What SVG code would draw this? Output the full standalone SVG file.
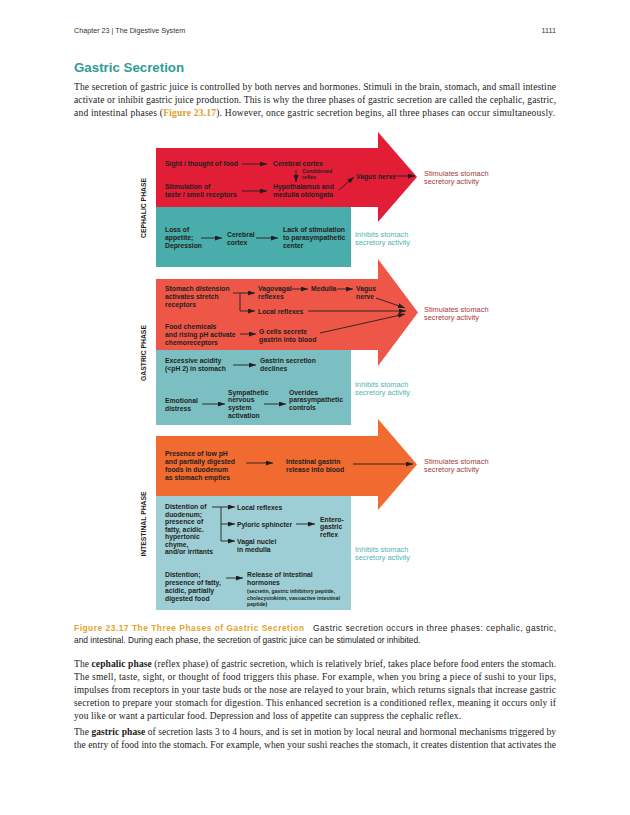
<svg xmlns="http://www.w3.org/2000/svg" width="630" height="815" viewBox="0 0 630 815">
<defs>
<marker id="ah" markerUnits="userSpaceOnUse" markerWidth="7" markerHeight="5" refX="7" refY="2.5" orient="auto">
<path d="M0,0 L7,2.5 L0,5 Z" fill="#231f20"/>
</marker>
<style>
.hd{font-family:"Liberation Sans",Arial,sans-serif;font-size:7.2px;fill:#333}
.ttl{font-family:"Liberation Sans",Arial,sans-serif;font-weight:bold;font-size:13.3px;fill:#2e9c96}
.p{font-family:"Liberation Serif","Times New Roman",serif;font-size:9.5px;fill:#1a1a1a}
.b{font-weight:bold}
.lnk{font-weight:bold;fill:#e29a25}
.cap{font-family:"Liberation Sans",Arial,sans-serif;font-size:8.4px;fill:#222}
.capb{font-weight:bold;fill:#e3a22e}
.t{font-family:"Liberation Sans",Arial,sans-serif;font-weight:bold;font-size:6.8px;fill:#231f20}
.sm{font-size:5.2px}
.stim{font-family:"Liberation Sans",Arial,sans-serif;font-size:7.4px;fill:#a23b3b}
.inh{font-family:"Liberation Sans",Arial,sans-serif;font-size:7.4px;fill:#4fb3b5}
.con{stroke:#231f20;stroke-width:0.9;fill:none}
.ar{marker-end:url(#ah)}
</style>
</defs>
<rect width="630" height="815" fill="#fff"/>

<g id="page-header">
<text class="hd" x="74" y="32.5">Chapter 23 | The Digestive System</text>
<text class="hd" x="556" y="32.5" text-anchor="end">1111</text>
</g>
<g id="title"><text class="ttl" x="74" y="72">Gastric Secretion</text></g>
<g id="intro">
<text class="p" x="74" y="89.5" textLength="482" lengthAdjust="spacing">The secretion of gastric juice is controlled by both nerves and hormones. Stimuli in the brain, stomach, and small intestine</text>
<text class="p" x="74" y="102.8" textLength="482" lengthAdjust="spacing">activate or inhibit gastric juice production. This is why the three phases of gastric secretion are called the cephalic, gastric,</text>
<text class="p" x="74" y="116" textLength="481" lengthAdjust="spacing">and intestinal phases (<tspan class="lnk">Figure 23.17</tspan>). However, once gastric secretion begins, all three phases can occur simultaneously.</text>
</g>

<!-- Phase shapes -->
<g id="cephalic-phase">
<path d="M156,148 H378 V132 L417,177 L378,222 V207 H156 Z" fill="#e21e37"/>
<rect x="156" y="207" width="195" height="60" fill="#48adab"/>
<text class="t" transform="translate(145.5,208) rotate(-90)" text-anchor="middle">CEPHALIC PHASE</text>
</g>
<g id="gastric-phase">
<path d="M156,279 H378 V259 L418,312.5 L378,366 V350 H156 Z" fill="#ee5747"/>
<rect x="156" y="350" width="195" height="75" fill="#7bbfc3"/>
<text class="t" transform="translate(145.5,353) rotate(-90)" text-anchor="middle">GASTRIC PHASE</text>
</g>
<g id="intestinal-phase">
<path d="M156,436 H378 V419 L417,464.5 L378,510 V496 H156 Z" fill="#f16a2f"/>
<rect x="156" y="496" width="195" height="114" fill="#9dced5"/>
<text class="t" transform="translate(145.5,524) rotate(-90)" text-anchor="middle">INTESTINAL PHASE</text>
</g>

<!-- Cephalic nodes -->
<g id="c-sight"><text class="t" x="165" y="166">Sight / thought of food</text></g>
<g id="c-cortex"><text class="t" x="273" y="166">Cerebral cortex</text></g>
<g id="c-cond"><text class="t sm" x="302" y="173">Conditioned</text><text class="t sm" x="302" y="179">reflex</text></g>
<g id="c-stim"><text class="t" x="165" y="188.5">Stimulation of</text><text class="t" x="165" y="196.5">taste / smell receptors</text></g>
<g id="c-hypo"><text class="t" x="273" y="188.5">Hypothalamus and</text><text class="t" x="273" y="196.5">medulla oblongata</text></g>
<g id="c-vagus"><text class="t" x="356" y="179">Vagus nerve</text></g>
<g id="c-out-stim"><text class="stim" x="424" y="176">Stimulates stomach</text><text class="stim" x="424" y="184">secretory activity</text></g>
<g id="c-loss"><text class="t" x="165" y="231.5">Loss of</text><text class="t" x="165" y="239.5">appetite;</text><text class="t" x="165" y="247.5">Depression</text></g>
<g id="c-cortex2"><text class="t" x="227" y="236.5">Cerebral</text><text class="t" x="227" y="244.5">cortex</text></g>
<g id="c-lack"><text class="t" x="283" y="231.5">Lack of stimulation</text><text class="t" x="283" y="239.5">to parasympathetic</text><text class="t" x="283" y="247.5">center</text></g>
<g id="c-out-inh"><text class="inh" x="355" y="236.5">Inhibits stomach</text><text class="inh" x="355" y="244.5">secretory activity</text></g>

<!-- Gastric nodes -->
<g id="g-dist"><text class="t" x="165" y="291">Stomach distension</text><text class="t" x="165" y="299">activates stretch</text><text class="t" x="165" y="307">receptors</text></g>
<g id="g-vago"><text class="t" x="258" y="291">Vagovagal</text><text class="t" x="258" y="299">reflexes</text></g>
<g id="g-medulla"><text class="t" x="311" y="291">Medulla</text></g>
<g id="g-vagus"><text class="t" x="356" y="291">Vagus</text><text class="t" x="356" y="299">nerve</text></g>
<g id="g-local"><text class="t" x="258" y="313.5">Local reflexes</text></g>
<g id="g-food"><text class="t" x="165" y="329">Food chemicals</text><text class="t" x="165" y="337">and rising pH activate</text><text class="t" x="165" y="345">chemoreceptors</text></g>
<g id="g-gcells"><text class="t" x="259" y="333.5">G cells secrete</text><text class="t" x="259" y="341.5">gastrin into blood</text></g>
<g id="g-out-stim"><text class="stim" x="424" y="312">Stimulates stomach</text><text class="stim" x="424" y="320">secretory activity</text></g>
<g id="g-acid"><text class="t" x="165" y="363">Excessive acidity</text><text class="t" x="165" y="371">(&lt;pH 2) in stomach</text></g>
<g id="g-decl"><text class="t" x="260" y="363">Gastrin secretion</text><text class="t" x="260" y="371">declines</text></g>
<g id="g-emot"><text class="t" x="165" y="402.5">Emotional</text><text class="t" x="165" y="410.5">distress</text></g>
<g id="g-symp"><text class="t" x="228" y="394.5">Sympathetic</text><text class="t" x="228" y="402.3">nervous</text><text class="t" x="228" y="410.1">system</text><text class="t" x="228" y="417.9">activation</text></g>
<g id="g-over"><text class="t" x="289" y="394.5">Overides</text><text class="t" x="289" y="402.3">parasympathetic</text><text class="t" x="289" y="410.1">controls</text></g>
<g id="g-out-inh"><text class="inh" x="355" y="386.5">Inhibits stomach</text><text class="inh" x="355" y="394.5">secretory activity</text></g>

<!-- Intestinal nodes -->
<g id="i-low"><text class="t" x="165" y="455.5">Presence of low pH</text><text class="t" x="165" y="463.5">and partially digested</text><text class="t" x="165" y="471.5">foods in duodenum</text><text class="t" x="165" y="479.5">as stomach empties</text></g>
<g id="i-gastrin"><text class="t" x="286" y="463.5">Intestinal gastrin</text><text class="t" x="286" y="471.5">release into blood</text></g>
<g id="i-out-stim"><text class="stim" x="424" y="463.5">Stimulates stomach</text><text class="stim" x="424" y="471.5">secretory activity</text></g>
<g id="i-dist"><text class="t" x="165" y="509">Distention of</text><text class="t" x="165" y="516.5">duodenum;</text><text class="t" x="165" y="524">presence of</text><text class="t" x="165" y="531.5">fatty, acidic.</text><text class="t" x="165" y="539">hypertonic</text><text class="t" x="165" y="546.5">chyme,</text><text class="t" x="165" y="554">and/or irritants</text></g>
<g id="i-local"><text class="t" x="237" y="509.5">Local reflexes</text></g>
<g id="i-pyl"><text class="t" x="237" y="527">Pyloric sphincter</text></g>
<g id="i-entero"><text class="t" x="320" y="521.5">Entero-</text><text class="t" x="320" y="529">gastric</text><text class="t" x="320" y="536.5">reflex</text></g>
<g id="i-vagal"><text class="t" x="237" y="544">Vagal nuclei</text><text class="t" x="237" y="551.5">in medulla</text></g>
<g id="i-out-inh"><text class="inh" x="355" y="552">Inhibits stomach</text><text class="inh" x="355" y="560">secretory activity</text></g>
<g id="i-dist2"><text class="t" x="165" y="576.5">Distention;</text><text class="t" x="165" y="584.5">presence of fatty,</text><text class="t" x="165" y="592.5">acidic, partially</text><text class="t" x="165" y="600.5">digested food</text></g>
<g id="i-horm"><text class="t" x="247" y="576.5">Release of intestinal</text><text class="t" x="247" y="584.5">hormones</text><text class="t sm" x="247" y="593">(secretin, gastric inhibitory peptide,</text><text class="t sm" x="247" y="599.5">cholecystokinin, vasoactive intestinal</text><text class="t sm" x="247" y="606">peptide)</text></g>

<g id="connectors">
<line class="con ar" x1="242" y1="164" x2="267" y2="164"/>
<line class="con ar" x1="296" y1="170" x2="296" y2="182"/>
<line class="con ar" x1="242" y1="191" x2="267" y2="191"/>
<line class="con ar" x1="339" y1="190" x2="354" y2="177"/>
<line class="con ar" x1="397" y1="176" x2="415" y2="176"/>
<line class="con ar" x1="201" y1="238" x2="222" y2="238"/>
<line class="con ar" x1="256" y1="238" x2="278" y2="238"/>
<line class="con ar" x1="233" y1="293" x2="255" y2="293"/>
<path class="con ar" d="M240,293 V311 H255"/>
<line class="con ar" x1="292" y1="289" x2="308" y2="289"/>
<line class="con ar" x1="337" y1="289" x2="353" y2="289"/>
<line class="con ar" x1="376" y1="298" x2="405" y2="308"/>
<line class="con ar" x1="308" y1="311" x2="406" y2="311"/>
<line class="con ar" x1="320" y1="333" x2="405" y2="314"/>
<line class="con ar" x1="240" y1="334" x2="256" y2="334"/>
<line class="con ar" x1="233" y1="365" x2="256" y2="365"/>
<line class="con ar" x1="202" y1="404" x2="225" y2="404"/>
<line class="con ar" x1="264" y1="404" x2="286" y2="404"/>
<line class="con ar" x1="246" y1="463" x2="273" y2="463"/>
<line class="con ar" x1="353" y1="464" x2="413" y2="464"/>
<line class="con ar" x1="212" y1="507" x2="235" y2="507"/>
<path class="con ar" d="M221,507 V541 H235"/>
<line class="con ar" x1="221" y1="524" x2="235" y2="524"/>
<line class="con ar" x1="296" y1="524" x2="315" y2="524"/>
<line class="con ar" x1="226" y1="578" x2="243" y2="578"/>
</g>

<g id="caption">
<text class="cap capb" x="74" y="631" textLength="230" lengthAdjust="spacing">Figure 23.17 The Three Phases of Gastric Secretion</text>
<text class="cap" x="313" y="631" textLength="243" lengthAdjust="spacing">Gastric secretion occurs in three phases: cephalic, gastric,</text>
<text class="cap" x="74" y="643">and intestinal. During each phase, the secretion of gastric juice can be stimulated or inhibited.</text>
</g>

<g id="body">
<text class="p" x="74" y="667" textLength="482" lengthAdjust="spacing">The <tspan class="b">cephalic phase</tspan> (reflex phase) of gastric secretion, which is relatively brief, takes place before food enters the stomach.</text>
<text class="p" x="74" y="680" textLength="482" lengthAdjust="spacing">The smell, taste, sight, or thought of food triggers this phase. For example, when you bring a piece of sushi to your lips,</text>
<text class="p" x="74" y="693" textLength="482" lengthAdjust="spacing">impulses from receptors in your taste buds or the nose are relayed to your brain, which returns signals that increase gastric</text>
<text class="p" x="74" y="706" textLength="482" lengthAdjust="spacing">secretion to prepare your stomach for digestion. This enhanced secretion is a conditioned reflex, meaning it occurs only if</text>
<text class="p" x="74" y="719" textLength="387" lengthAdjust="spacing">you like or want a particular food. Depression and loss of appetite can suppress the cephalic reflex.</text>
<text class="p" x="74" y="735" textLength="482" lengthAdjust="spacing">The <tspan class="b">gastric phase</tspan> of secretion lasts 3 to 4 hours, and is set in motion by local neural and hormonal mechanisms triggered by</text>
<text class="p" x="74" y="748" textLength="482" lengthAdjust="spacing">the entry of food into the stomach. For example, when your sushi reaches the stomach, it creates distention that activates the</text>
</g>
</svg>
